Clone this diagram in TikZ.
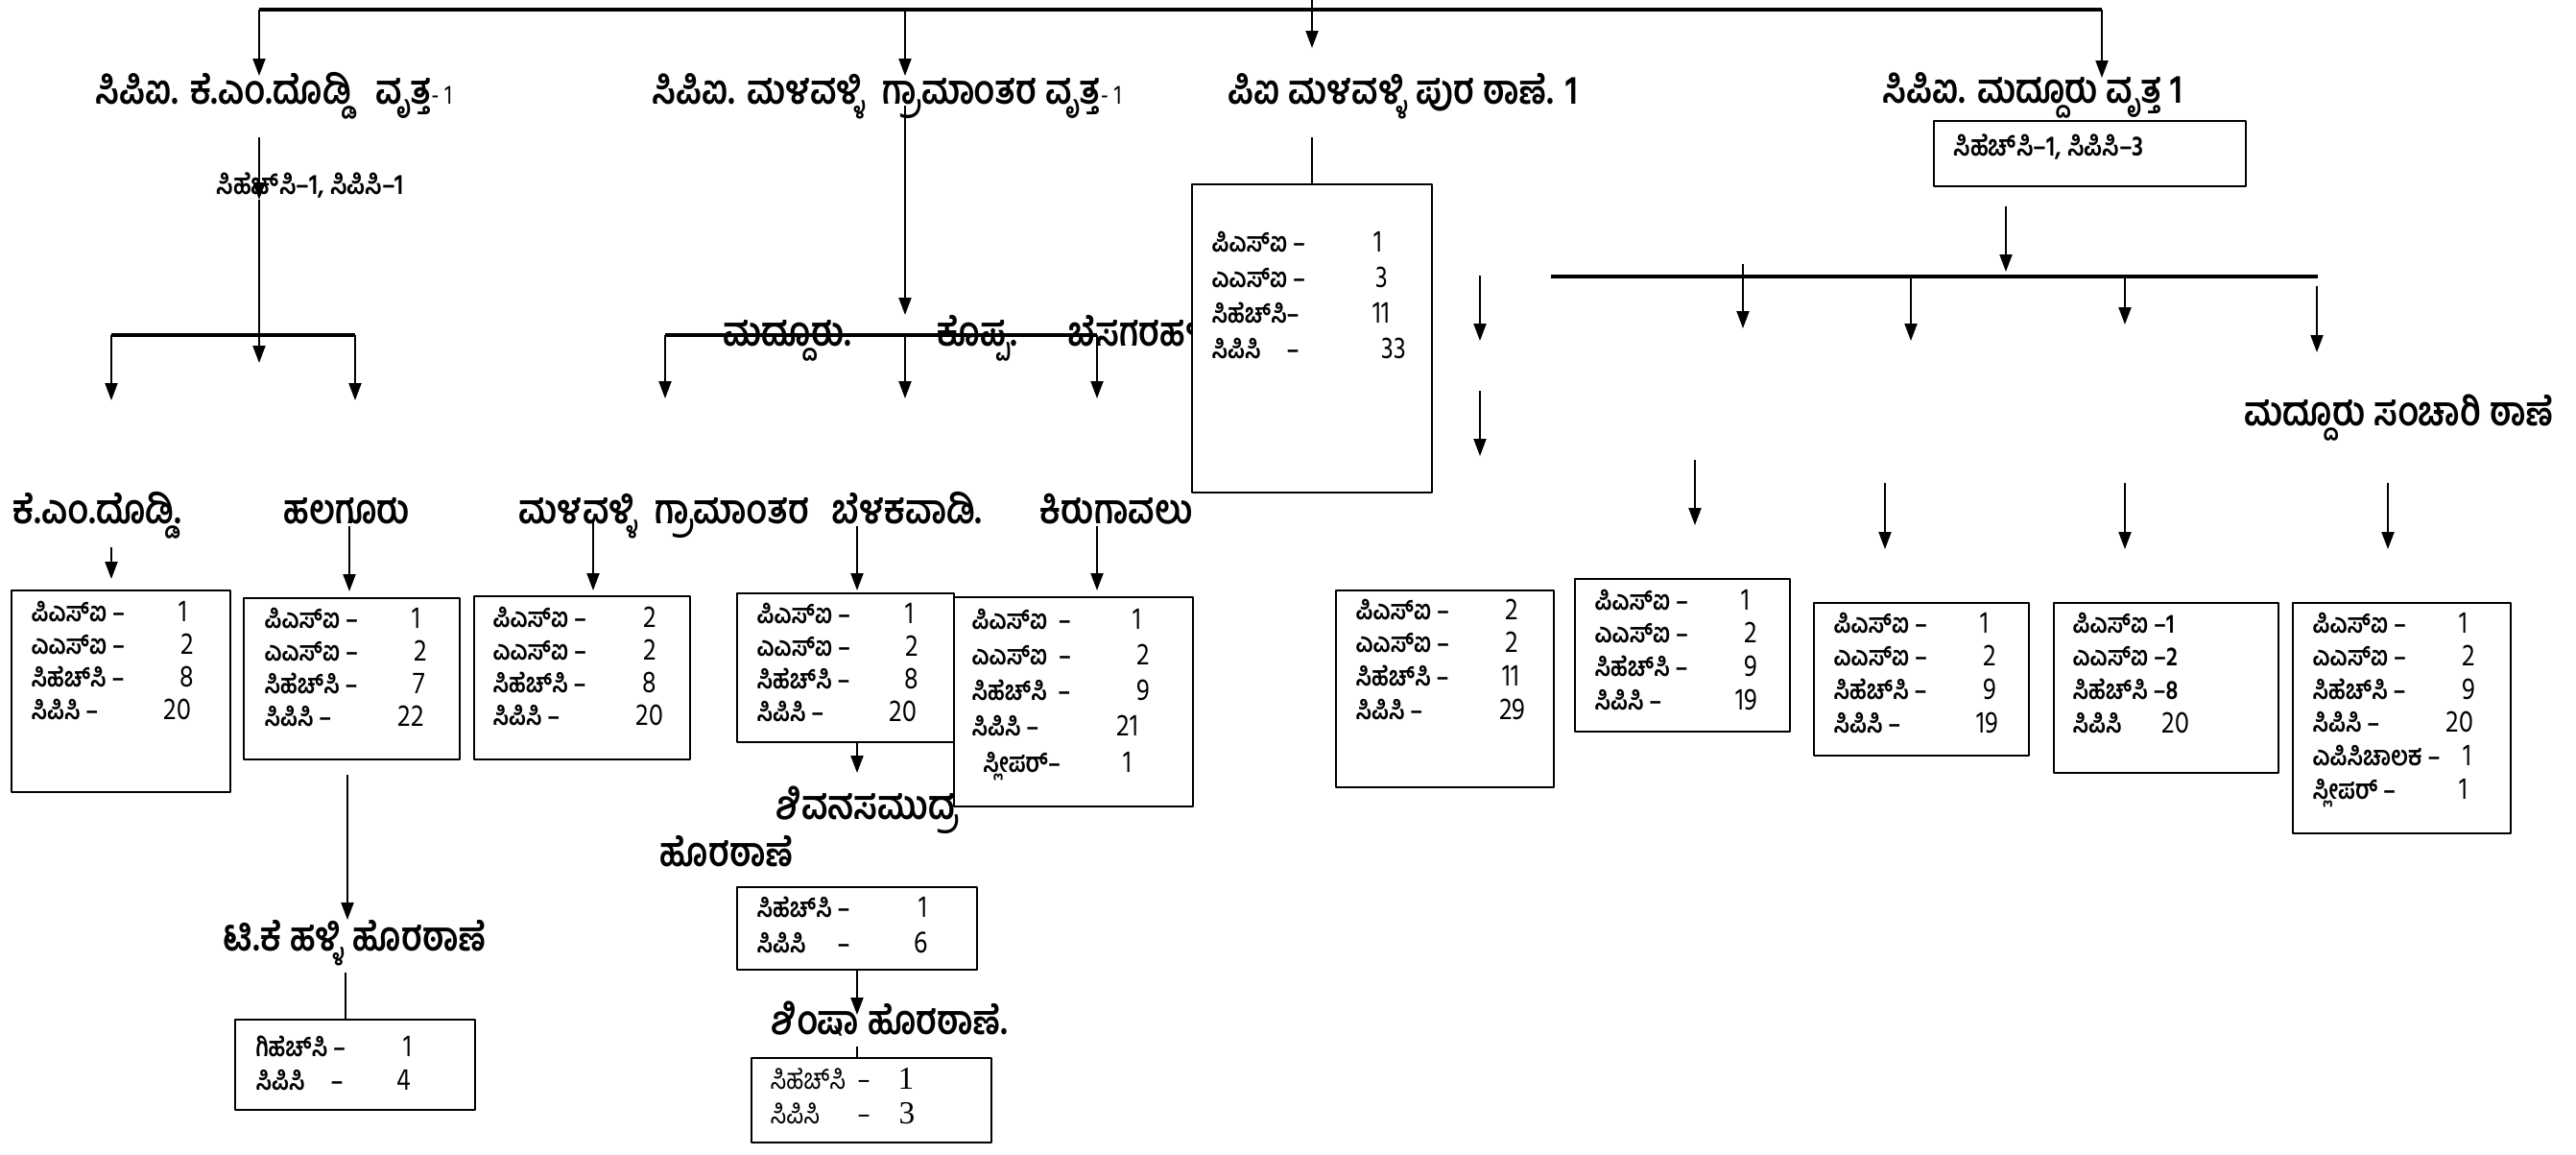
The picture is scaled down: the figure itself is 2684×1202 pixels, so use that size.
\documentclass[tikz,border=0pt]{standalone}
\usepackage{fontspec}
\newfontfamily\kn[Script=Kannada, FakeStretch=0.84]{Hind Mysuru}
\newfontfamily\sr{Liberation Serif}
\usetikzlibrary{arrows.meta,fit}
\newcommand\nj{^^^^200c}
\newcommand\padto[2]{\rlap{#1}\phantom{#2}}
\begin{document}
\begin{tikzpicture}[x=0.1mm, y=-0.1mm, line join=round,
	ttl/.style={font=\kn\bfseries\fontsize{12}{12}\selectfont, anchor=base west, inner sep=0pt},
	sub/.style={font=\kn\bfseries\fontsize{8.5}{8.5}\selectfont, anchor=base west, inner sep=0pt},
	cell/.style={font=\kn\bfseries\fontsize{8}{8}\selectfont, anchor=base west, inner sep=0pt},
	num/.style={font=\kn\fontsize{9.2}{9.2}\selectfont, anchor=base, inner sep=0pt},
	box/.style={draw, line width=0.8pt, fill=white, inner sep=0pt},
	arr/.style={-{Triangle[length=1.8mm,width=1.3mm]}, line width=0.6pt},
	bar/.style={line width=0.9pt}]
	\useasboundingbox (0,0) rectangle (2684,1202);
	% circle and station names
	\node[ttl] (cpi1) at (99,108) {ಸಿಪಿಐ. ಕೆ.ಎಂ.ದೊಡ್ಡಿ\ \ \ ವೃತ್ತ{\mdseries\fontsize{8}{8}\selectfont- 1}};
	\node[ttl] (cpi2) at (679,108) {ಸಿಪಿಐ. ಮಳವಳ್ಳಿ\ \ ಗ್ರಾಮಾಂತರ ವೃತ್ತ{\mdseries\fontsize{8}{8}\selectfont- 1}};
	\node[ttl] (pi) at (1279,108) {ಪಿಐ ಮಳವಳ್ಳಿ ಪುರ ಠಾಣೆ. 1};
	\node[ttl] (cpi3) at (1961,107) {ಸಿಪಿಐ. ಮದ್ದೂರು ವೃತ್ತ 1};
	\node[sub] (cpi1s) at (225,202) {ಸಿಹೆಚ್\nj ಸಿ–1, ಸಿಪಿಸಿ–1};
	\node[ttl] (mdd) at (753,360) {ಮದ್ದೂರು.};
	\node[ttl] (kop) at (976,360) {ಕೊಪ್ಪ.};
	\node[ttl] (bsg) at (1112,360) {ಬೆಸಗರಹಳ್ಳಿ};
	\node[ttl] (sanc) at (2338,443) {ಮದ್ದೂರು ಸಂಚಾರಿ ಠಾಣೆ};
	\node[ttl] (kmd) at (13,545) {ಕೆ.ಎಂ.ದೊಡ್ಡಿ.};
	\node[ttl] (hal) at (295,545) {ಹಲಗೂರು};
	\node[ttl] (mlr) at (540,545) {ಮಳವಳ್ಳಿ\ \ ಗ್ರಾಮಾಂತರ};
	\node[ttl] (blk) at (866,545) {ಬೆಳಕವಾಡಿ.};
	\node[ttl] (kir) at (1083,545) {ಕಿರುಗಾವಲು};
	\node[ttl] (shv) at (808,853) {ಶಿವನಸಮುದ್ರ};
	\node[ttl] (shv2) at (687,902) {ಹೊರಠಾಣೆ};
	\node[ttl] (tkh) at (232,990) {ಟಿ.ಕೆ ಹಳ್ಳಿ ಹೊರಠಾಣೆ};
	\node[ttl] (shm) at (803,1077) {ಶಿಂಷಾ ಹೊರಠಾಣೆ.};
	% boxes
	\node[box, fit={(2015,126) (2340,194)}] (cpi3B) {};
	\node[sub] (cpi3s) at (2035,162) {ಸಿಹೆಚ್\nj ಸಿ–1, ಸಿಪಿಸಿ–3};
	\node[box, fit={(1242,192) (1492,513)}] (piB) {};
	\node[box, fit={(12,615) (240,825)}] (kmdB) {};
	\node[box, fit={(254,623) (479,791)}] (halB) {};
	\node[box, fit={(494,621) (719,791)}] (mlrB) {};
	\node[box, fit={(768,618) (994,773)}] (blkB) {};
	\node[box, fit={(994,622) (1243,840)}] (kirB) {};
	\node[box, fit={(768,924) (1018,1010)}] (shvB) {};
	\node[box, fit={(245,1062) (495,1156)}] (tkhB) {};
	\node[box, fit={(783,1102) (1033,1190)}] (shmB) {};
	\node[box, fit={(1392,615) (1619,820)}] (aB) {};
	\node[box, fit={(1641,603) (1865,762)}] (bB) {};
	\node[box, fit={(1890,628) (2114,787)}] (cB) {};
	\node[box, fit={(2140,628) (2374,805)}] (dB) {};
	\node[box, fit={(2389,628) (2616,868)}] (eB) {};
	% staff rows
	\foreach \l/\n/\nx [count=\i from 0] in {ಪಿಎಸ್\nj ಐ –/1/1436, ಎಎಸ್\nj ಐ –/3/1440, ಸಿಹೆಚ್\nj ಸಿ–/11/1439, \padto{ಸಿಪಿಸಿ}{ಸಿಹೆಚ್\nj ಸಿ}–/33/1452}
		{\node[cell] (pi-l\i) at (1262,262+37.3*\i) {\l}; \node[num] (pi-n\i) at (\nx,262+37.3*\i) {\n};}
	\foreach \l/\n/\nx [count=\i from 0] in {ಪಿಎಸ್\nj ಐ –/1/191, ಎಎಸ್\nj ಐ –/2/195, ಸಿಹೆಚ್\nj ಸಿ –/8/195, ಸಿಪಿಸಿ –/20/185}
		{\node[cell] (kmd-l\i) at (32,647+34*\i) {\l}; \node[num] (kmd-n\i) at (\nx,647+34*\i) {\n};}
	\foreach \l/\n/\nx [count=\i from 0] in {ಪಿಎಸ್\nj ಐ –/1/434, ಎಎಸ್\nj ಐ –/2/438, ಸಿಹೆಚ್\nj ಸಿ –/7/437, ಸಿಪಿಸಿ –/22/428}
		{\node[cell] (hal-l\i) at (275,654+34.3*\i) {\l}; \node[num] (hal-n\i) at (\nx,654+34.3*\i) {\n};}
	\foreach \l/\n/\nx [count=\i from 0] in {ಪಿಎಸ್\nj ಐ –/2/677, ಎಎಸ್\nj ಐ –/2/677, ಸಿಹೆಚ್\nj ಸಿ –/8/677, ಸಿಪಿಸಿ –/20/677}
		{\node[cell] (mlr-l\i) at (513,653+34*\i) {\l}; \node[num] (mlr-n\i) at (\nx,653+34*\i) {\n};}
	\foreach \l/\n/\nx [count=\i from 0] in {ಪಿಎಸ್\nj ಐ –/1/948, ಎಎಸ್\nj ಐ –/2/950, ಸಿಹೆಚ್\nj ಸಿ –/8/950, ಸಿಪಿಸಿ –/20/941}
		{\node[cell] (blk-l\i) at (788,649+34.3*\i) {\l}; \node[num] (blk-n\i) at (\nx,649+34.3*\i) {\n};}
	\foreach \l/\n/\nx [count=\i from 0] in {ಪಿಎಸ್\nj ಐ \ –/1/1185, ಎಎಸ್\nj ಐ \ –/2/1191, ಸಿಹೆಚ್\nj ಸಿ \ –/9/1191, ಸಿಪಿಸಿ –/21/1175, \ \ ಸ್ಲೀಪರ್–/1/1175}
		{\node[cell] (kir-l\i) at (1012,655+37.3*\i) {\l}; \node[num] (kir-n\i) at (\nx,655+37.3*\i) {\n};}
	\foreach \l/\n/\nx [count=\i from 0] in {ಸಿಹೆಚ್\nj ಸಿ –/1/962, \padto{ಸಿಪಿಸಿ}{ಸಿಹೆಚ್\nj ಸಿ }–/6/960}
		{\node[cell] (shv-l\i) at (788,955+37*\i) {\l}; \node[num] (shv-n\i) at (\nx,955+37*\i) {\n};}
	\foreach \l/\n/\nx [count=\i from 0] in {ಗಿಹೆಚ್\nj ಸಿ –/1/425, \padto{ಸಿಪಿಸಿ}{ಸಿಹೆಚ್\nj ಸಿ}–/4/421}
		{\node[cell] (tkh-l\i) at (266,1100+35*\i) {\l}; \node[num] (tkh-n\i) at (\nx,1100+35*\i) {\n};}
	\foreach \l/\n/\nx [count=\i from 0] in {ಸಿಹೆಚ್\nj ಸಿ \ –/1/944, \padto{ಸಿಪಿಸಿ}{ಸಿಹೆಚ್\nj ಸಿ \ }–/3/945}
		{\node[cell, font=\kn\mdseries\fontsize{8.5}{8.5}\selectfont] (shm-l\i) at (802,1134+36*\i) {\l}; \node[num, font=\sr\fontsize{9.5}{9.5}\selectfont] (shm-n\i) at (\nx,1134+36*\i) {\n};}
	\foreach \l/\n/\nx [count=\i from 0] in {ಪಿಎಸ್\nj ಐ –/2/1575, ಎಎಸ್\nj ಐ –/2/1575, ಸಿಹೆಚ್\nj ಸಿ –/11/1574, ಸಿಪಿಸಿ –/29/1576}
		{\node[cell] (a-l\i) at (1412,645+34.7*\i) {\l}; \node[num] (a-n\i) at (\nx,645+34.7*\i) {\n};}
	\foreach \l/\n/\nx [count=\i from 0] in {ಪಿಎಸ್\nj ಐ –/1/1819, ಎಎಸ್\nj ಐ –/2/1824, ಸಿಹೆಚ್\nj ಸಿ –/9/1824, ಸಿಪಿಸಿ –/19/1820}
		{\node[cell] (b-l\i) at (1661,635+34.7*\i) {\l}; \node[num] (b-n\i) at (\nx,635+34.7*\i) {\n};}
	\foreach \l/\n/\nx [count=\i from 0] in {ಪಿಎಸ್\nj ಐ –/1/2068, ಎಎಸ್\nj ಐ –/2/2073, ಸಿಹೆಚ್\nj ಸಿ –/9/2073, ಸಿಪಿಸಿ –/19/2071}
		{\node[cell] (c-l\i) at (1910,659+34.7*\i) {\l}; \node[num] (c-n\i) at (\nx,659+34.7*\i) {\n};}
	\foreach \l/\n/\nx [count=\i from 0] in {ಪಿಎಸ್\nj ಐ –1//2267, ಎಎಸ್\nj ಐ –2//2267, ಸಿಹೆಚ್\nj ಸಿ –8//2267, ಸಿಪಿಸಿ/20/2267}
		{\node[cell] (d-l\i) at (2159,659+34.7*\i) {\l}; \node[num] (d-n\i) at (\nx,659+34.7*\i) {\n};}
	\foreach \l/\n/\nx [count=\i from 0] in {ಪಿಎಸ್\nj ಐ –/1/2567, ಎಎಸ್\nj ಐ –/2/2572, ಸಿಹೆಚ್\nj ಸಿ –/9/2572, ಸಿಪಿಸಿ –/20/2563, ಎಪಿಸಿಚಾಲಕ –/1/2571, ಸ್ಲೀಪರ್ –/1/2567}
		{\node[cell] (e-l\i) at (2409,659+34.6*\i) {\l}; \node[num] (e-n\i) at (\nx,659+34.6*\i) {\n};}
	% bars
	\foreach \n/\xa/\xb/\y in {top/270/2190/10, kb/116/370/349, mb/693/1143/349, rb/1616/2415/288}
		{\coordinate (\n a) at (\xa,\y); \coordinate (\n b) at (\xb,\y); \draw[bar] (\n a) -- (\n b);}
	% arrows
	\foreach \n/\x/\ya/\yb in {t1/270/10/79, t2/943/10/79, t3/1367/0/50, t4/2190/10/81,
			k1/270/143/208, k2/270/208/378, k3/116/349/417, k4/370/349/417,
			m1/943/110/328, m2/693/349/415, m3/943/349/415, m4/1143/349/415,
			p1/1542/287/355, p2/1542/407/475, r1/2090/215/283, r2/1816/275/342,
			r3/1991/288/355, r4/2214/288/338, r5/2414/298/367,
			s1/1766/479/547, s2/1964/503/572, s3/2214/503/572, s4/2488/503/572,
			b1/116/570/603, b2/364/548/616, b3/618/543/615, b4/893/548/615, b5/1143/548/615,
			u1/362/807/958, u2/893/773/805, u3/893/1010/1057}
		{\coordinate (\n a) at (\x,\ya); \coordinate (\n b) at (\x,\yb); \draw[arr] (\n a) -- (\n b);}
	% plain joins
	\coordinate (pj) at (1367,143);
	\coordinate (tj) at (360,1013);
	\coordinate (sj) at (893,1090);
	\draw[line width=0.6pt] (pj) -- (piB.north) (tj) -- (tj |- tkhB.north) (sj) -- (sj |- shmB.north);
\end{tikzpicture}
\end{document}
